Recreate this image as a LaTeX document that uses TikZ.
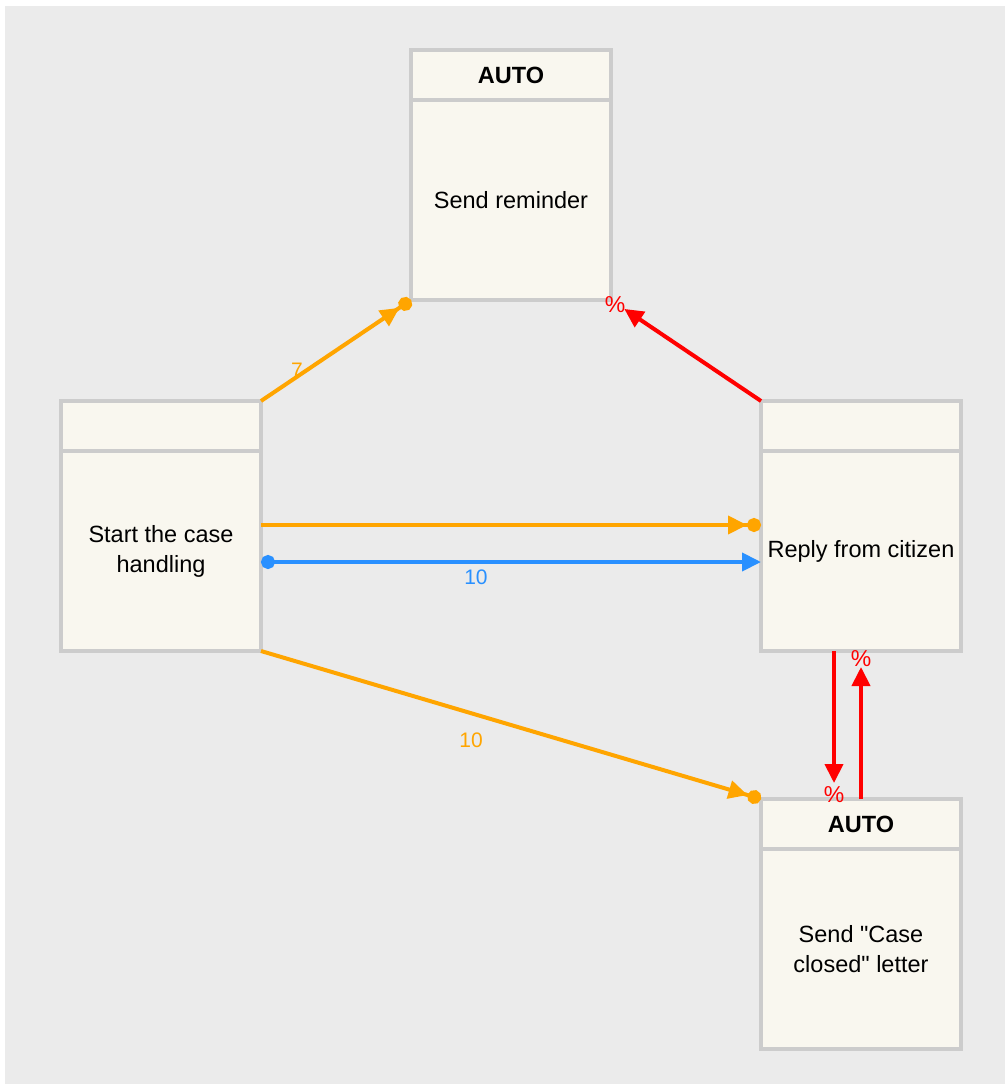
\documentclass[tikz,border=0pt]{standalone}
\usepackage{fontspec}
\setmainfont{Liberation Sans}
\usepackage{tikz}
\usetikzlibrary{arrows.meta,positioning}
\definecolor{canvas}{HTML}{EBEBEB}
\definecolor{paper}{HTML}{F9F7EF}
\definecolor{frame}{HTML}{CCCCCC}
\definecolor{tangerine}{HTML}{FFA500}
\definecolor{azure}{HTML}{2990FF}
\definecolor{signal}{HTML}{FF0000}
\tikzset{
  stepbody/.style={rectangle,draw=frame,line width=4pt,fill=paper,outer sep=0pt,
    minimum width=200pt,minimum height=200pt,align=center,
    font=\fontsize{23.5}{30}\selectfont},
  stephead/.style={stepbody,minimum height=50pt,
    font=\fontsize{23.5}{30}\selectfont\bfseries},
  orangearrow/.style={-{Triangle[length=19pt,width=18pt]Circle[length=14pt]},
    line width=4pt,color=tangerine},
  bluearrow/.style={{Circle[length=14pt]}-{Triangle[length=19pt,width=18pt]},
    line width=4pt,color=azure},
  redarrow/.style={-{Triangle[length=19pt,width=18pt]},line width=4pt,
    color=signal,shorten >=16pt},
}
\begin{document}
\begin{tikzpicture}[x=1pt,y=-1pt,
  lbl/.style={font=\fontsize{21}{24}\selectfont,inner sep=2pt},
  pct/.style={lbl,font=\fontsize{23}{24}\selectfont,text=signal}]
  \fill[white] (0,0) rectangle (1005,1084);
  \fill[canvas] (5,6) rectangle (1005,1084);
  \useasboundingbox (0,0) rectangle (1005,1084);

  \node[stepbody] (startB) at (161,551) {Start the case\\handling};
  \node[stephead,above=0pt of startB] (startH) {};
  \node[stepbody,right=500pt of startB] (replyB) {Reply from citizen};
  \node[stephead,above=0pt of replyB] (replyH) {};
  \node[stepbody,above right=101pt and 150pt of startH] (remindB) {Send reminder};
  \node[stephead,above=0pt of remindB] (remindH) {AUTO};
  \node[stephead,below=148pt of replyB] (closeH) {AUTO};
  \node[stepbody,below=0pt of closeH] (closeB) {Send \textquotedbl Case\\closed\textquotedbl{} letter};

  \draw[orangearrow] (startH.north east) -- node[lbl,pos=0.24,yshift=6pt,text=tangerine]{7} (remindB.south west);
  \draw[redarrow] (replyH.north west) -- node[pct,pos=1,xshift=4pt,yshift=-5pt]{\%} (remindB.south east);
  \draw[orangearrow] ([yshift=26pt]startB.east) -- ([yshift=26pt]replyB.west);
  \draw[bluearrow] ([yshift=-11pt]startB.east) -- node[lbl,pos=0.43,below,yshift=-4pt,text=azure]{10} ([yshift=-11pt]replyB.west);
  \draw[orangearrow] (startB.south east) -- node[lbl,pos=0.42,below,yshift=-16pt,text=tangerine]{10} (closeH.north west);
  \draw[redarrow] ([xshift=-27pt]replyB.south) -- node[pct,pos=1,yshift=4pt]{\%} ([xshift=-27pt]closeH.north);
  \draw[redarrow] (closeH.north) -- node[pct,pos=1,yshift=-8pt]{\%} (replyB.south);
\end{tikzpicture}
\end{document}
